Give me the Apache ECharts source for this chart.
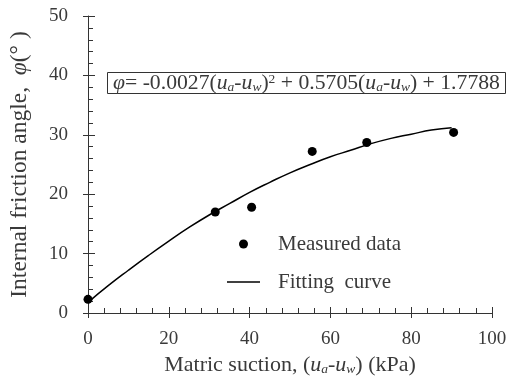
<!DOCTYPE html>
<html><head><meta charset="utf-8">
<script src="https://cdn.jsdelivr.net/npm/echarts@6/dist/echarts.min.js"></script>
<style>html,body{margin:0;padding:0;background:#fff}#c{width:510px;height:383px}</style>
</head><body><div id="c"></div>
<script>
// Measured data: [matric suction (kPa), friction angle (deg)]
const measuredX = [0, 31.5, 40.5, 55.5, 69, 90.5];
const measuredY = [2.3, 17.0, 17.8, 27.2, 28.7, 30.4];
// Fitting curve
const fitX = [0, 5, 10, 15, 20, 25, 30, 35, 40, 45, 50, 55, 60, 65, 70, 75, 80, 85, 90];
const fitY = [1.8, 4.6, 7.2, 9.7, 12.1, 14.4, 16.5, 18.4, 20.3, 22.0, 23.6, 25.0, 26.3, 27.4, 28.5, 29.4, 30.1, 30.8, 31.2];
const xTicks = [0, 20, 40, 60, 80, 100];
const yTicks = [0, 10, 20, 30, 40, 50];

const FONT = 'Liberation Serif';
const TXT = '#3a3a3a';
const AX = '#333';
const chart = echarts.init(document.getElementById('c'), null, {renderer: 'canvas'});
const baseX = {min: xTicks[0], max: xTicks[xTicks.length - 1], interval: xTicks[1] - xTicks[0]};
const baseY = {min: yTicks[0], max: yTicks[yTicks.length - 1], interval: yTicks[1] - yTicks[0]};
const subA = {fontFamily: FONT, fontSize: 13.5, fontStyle: 'italic', color: TXT, lineHeight: 10, verticalAlign: 'bottom'};
const sup = {fontFamily: FONT, fontSize: 13.5, color: TXT, lineHeight: 12, verticalAlign: 'top'};
const ital = {fontFamily: FONT, fontStyle: 'italic', color: TXT};

chart.setOption({
  animation: false,
  backgroundColor: '#fff',
  grid: {left: 88, right: 18, top: 16, bottom: 70},
  title: {
    left: 107, top: 72,
    text: '{i|φ}= -0.0027({i|u}{s|a}-{i|u}{s|w}){p|2} + 0.5705({i|u}{s|a}-{i|u}{s|w}) + 1.7788',
    borderColor: '#333', borderWidth: 1, padding: [0, 6, 0, 6],
    textStyle: {
      fontFamily: FONT, fontSize: 21.7, fontWeight: 'normal', color: TXT, lineHeight: 22,
      rich: {
        i: Object.assign({fontSize: 21.7, lineHeight: 22}, ital),
        s: subA,
        p: sup
      }
    }
  },
  legend: {
    orient: 'vertical', left: 227, top: 233, padding: 0, itemGap: 16,
    itemWidth: 33, itemHeight: 9,
    textStyle: {fontFamily: FONT, fontSize: 21, color: TXT, padding: [0, 0, 0, 13], lineHeight: 22},
    data: [
      {name: 'Measured data', icon: 'circle', itemStyle: {color: '#000', opacity: 1}},
      {name: 'Fitting  curve', icon: 'path://M0 0H100V5H0Z', itemStyle: {color: '#000'}}
    ]
  },
  xAxis: [Object.assign({
    type: 'value', position: 'bottom',
    name: '{t|Matric suction, (}{i|u}{s|a}{t|-}{i|u}{s|w}{t|) (kPa)}',
    nameLocation: 'middle', nameGap: 41,
    nameTextStyle: {
      fontFamily: FONT, fontSize: 22, color: TXT, lineHeight: 22,
      rich: {
        t: {fontFamily: FONT, fontSize: 22, color: TXT, lineHeight: 22},
        i: Object.assign({fontSize: 22, lineHeight: 22}, ital),
        s: subA
      }
    },
    axisLine: {show: true, onZero: false, lineStyle: {color: AX, width: 1}},
    axisTick: {show: true, inside: true, length: 6, lineStyle: {color: AX}},
    minorTick: {show: true, splitNumber: 5, length: 5, lineStyle: {color: AX}},
    splitLine: {show: false},
    axisLabel: {fontFamily: FONT, fontSize: 19, color: TXT, margin: 17}
  }, baseX), Object.assign({
    type: 'value', position: 'bottom',
    axisLine: {show: false},
    axisTick: {show: true, inside: false, length: 5, lineStyle: {color: AX}},
    splitLine: {show: false},
    axisLabel: {show: false}
  }, baseX)],
  yAxis: [Object.assign({
    type: 'value', position: 'left',
    name: '{t|Internal friction angle,  }{i|φ}{t|(° )}',
    nameLocation: 'middle', nameGap: 56, nameRotate: 90,
    nameTextStyle: {
      fontFamily: FONT, fontSize: 23.5, color: TXT, lineHeight: 24,
      rich: {
        t: {fontFamily: FONT, fontSize: 23.5, color: TXT, lineHeight: 24},
        i: Object.assign({fontSize: 23.5, lineHeight: 24}, ital)
      }
    },
    axisLine: {show: true, onZero: false, lineStyle: {color: AX, width: 1}},
    axisTick: {show: true, inside: true, length: 7, lineStyle: {color: AX}},
    minorTick: {show: true, splitNumber: 5, length: 5, lineStyle: {color: AX}},
    splitLine: {show: false},
    axisLabel: {fontFamily: FONT, fontSize: 19, color: TXT, margin: 20}
  }, baseY), Object.assign({
    type: 'value', position: 'left',
    axisLine: {show: false},
    axisTick: {show: true, inside: false, length: 5, lineStyle: {color: AX}},
    splitLine: {show: false},
    axisLabel: {show: false}
  }, baseY)],
  series: [
    {
      name: 'Measured data', type: 'scatter', xAxisIndex: 0, yAxisIndex: 0,
      symbol: 'circle', symbolSize: 9,
      itemStyle: {color: '#000', opacity: 1},
      data: measuredX.map((x, i) => [x, measuredY[i]]),
      z: 3
    },
    {
      name: 'Fitting  curve', type: 'line', xAxisIndex: 0, yAxisIndex: 0,
      smooth: true, symbol: 'none', showSymbol: false,
      lineStyle: {color: '#000', width: 1.5},
      itemStyle: {color: '#000'},
      data: fitX.map((x, i) => [x, fitY[i]]),
      z: 2
    }
  ]
});
</script></body></html>
